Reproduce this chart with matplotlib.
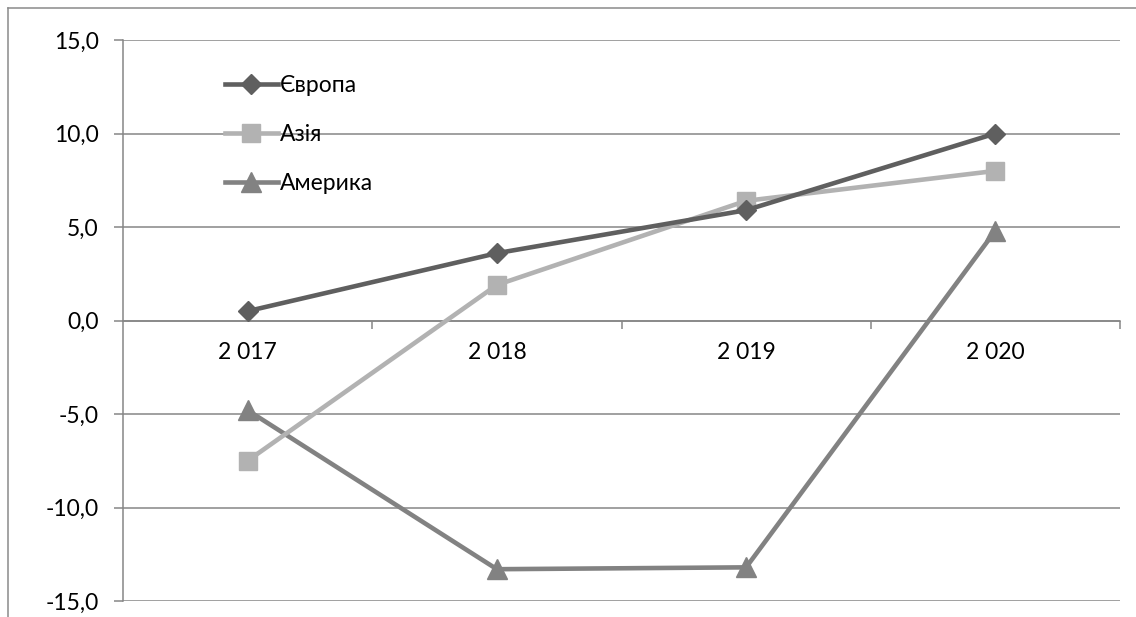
import matplotlib
matplotlib.use("Agg")
import matplotlib.pyplot as plt
from matplotlib.lines import Line2D
from matplotlib.ticker import FixedLocator, FuncFormatter

categories = ["2 017", "2 018", "2 019", "2 020"]
europe = [0.5, 3.6, 5.9, 10.0]
asia = [-7.5, 1.9, 6.4, 8.0]
america = [-4.8, -13.3, -13.2, 4.8]
series_names = ["Європа", "Азія", "Америка"]

plt.rcParams['font.family'] = ['Lato', 'DejaVu Sans']
plt.rcParams['axes.unicode_minus'] = False

grid_c = "#868686"
fig = plt.figure(figsize=(11.36, 6.17), dpi=100)
ax = fig.add_axes([123/1136, 1-601/617, (1120-123)/1136, (601-40)/617])

x = list(range(len(categories)))
ax.plot(x, europe, color="#5f5f5f", lw=3.3, marker="D", ms=10, label=series_names[0], zorder=5)
ax.plot(x, asia, color="#b2b2b2", lw=3.3, marker="s", ms=13.5, label=series_names[1], zorder=4)
ax.plot(x, america, color="#828282", lw=3.3, marker="^", ms=14.5, label=series_names[2], zorder=3)

ax.set_xlim(-0.5, 3.5)
ax.set_ylim(-15, 15)
ax.yaxis.set_major_locator(FixedLocator([-15, -10, -5, 0, 5, 10, 15]))
ax.yaxis.set_major_formatter(FuncFormatter(lambda v, p: f"{v:.1f}".replace(".", ",")))
ax.grid(axis="y", color=grid_c, lw=1.1, zorder=0)
ax.set_axisbelow(True)

for s in ["top", "right"]:
    ax.spines[s].set_visible(False)
ax.spines["left"].set_color(grid_c)
ax.spines["left"].set_linewidth(1.1)
ax.spines["bottom"].set_position(("data", 0))
ax.spines["bottom"].set_color(grid_c)
ax.spines["bottom"].set_linewidth(1.1)

ax.tick_params(axis="y", direction="out", length=6.5, width=1.1, color=grid_c,
               labelsize=16.5, pad=11, labelcolor="black")
ax.xaxis.set_major_locator(FixedLocator([0.5, 1.5, 2.5, 3.5]))
ax.xaxis.set_major_formatter(FuncFormatter(lambda v, p: ""))
ax.xaxis.set_minor_locator(FixedLocator(x))
ax.set_xticklabels(categories, minor=True)
ax.tick_params(axis="x", which="major", direction="out", length=6, width=1.1, color=grid_c)
ax.tick_params(axis="x", which="minor", length=0, labelsize=16.5, pad=15.5, labelcolor="black")

leg = ax.legend(loc="upper left", bbox_to_anchor=(225/1136, 1-75/617), bbox_transform=fig.transFigure,
                frameon=False, fontsize=16.5, handlelength=2.3, handletextpad=0.1,
                labelspacing=1.22, borderaxespad=0, borderpad=0)

# outer chart border (top and left)
fig.add_artist(Line2D([8/1136, 1.0], [1-8/617, 1-8/617], transform=fig.transFigure, color="#8a8a8a", lw=1.1))
fig.add_artist(Line2D([8/1136, 8/1136], [0, 1-8/617], transform=fig.transFigure, color="#8a8a8a", lw=1.1))

fig.savefig("out.png", dpi=100)
